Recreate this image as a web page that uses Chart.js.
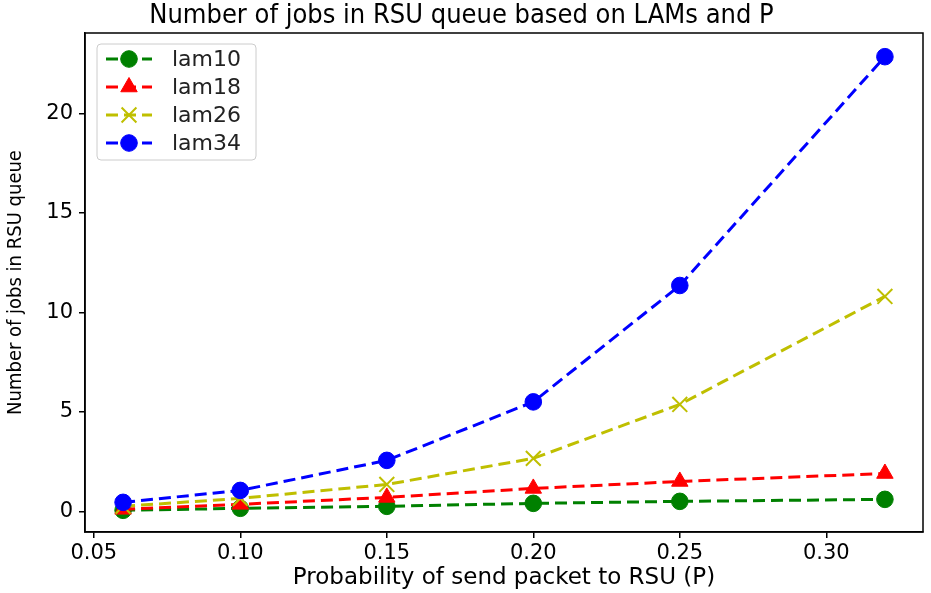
<!DOCTYPE html>
<html>
<head>
<meta charset="utf-8">
<script src="https://cdn.jsdelivr.net/npm/chart.js@4.4.0/dist/chart.umd.min.js"></script>
<style>
  html, body { margin: 0; padding: 0; background: #fff; }
  #wrap { width: 931px; height: 593px; position: relative; }
</style>
</head>
<body>
<div id="wrap"><canvas id="c" width="931" height="593"></canvas></div>
<script>
const pValues = [0.06, 0.10, 0.15, 0.20, 0.25, 0.32];
const lam10 = [0.05, 0.15, 0.25, 0.40, 0.50, 0.60];
const lam18 = [0.10, 0.35, 0.70, 1.15, 1.50, 1.90];
const lam26 = [0.25, 0.65, 1.35, 2.66, 5.37, 10.80];
const lam34 = [0.45, 1.05, 2.56, 5.50, 11.35, 22.85];
const seriesNames = ['lam10', 'lam18', 'lam26', 'lam34'];
const xTicks = [0.05, 0.10, 0.15, 0.20, 0.25, 0.30];
const yTicks = [0, 5, 10, 15, 20];

const colors = ['#008000', '#ff0000', '#bfbf00', '#0000ff'];
const styles = ['circle', 'triangle', 'crossRot', 'circle'];
const radii = [8.3, 9.5, 10.5, 8.3];
const allSeries = [lam10, lam18, lam26, lam34];

const datasets = allSeries.map((vals, i) => ({
  label: seriesNames[i],
  data: pValues.map((p, j) => ({ x: p, y: vals[j] })),
  borderColor: colors[i],
  backgroundColor: colors[i],
  pointBackgroundColor: colors[i],
  pointBorderColor: colors[i],
  pointStyle: styles[i],
  pointRadius: radii[i],
  pointBorderWidth: styles[i] === 'crossRot' ? 2 : 1,
  borderWidth: 3,
  borderDash: [12, 6],
  tension: 0,
  fill: false,
  order: 4 - i
}));

const framePlugin = {
  id: 'frame',
  afterDraw(chart) {
    const { ctx, chartArea: a } = chart;
    ctx.save();
    ctx.strokeStyle = '#000';
    ctx.lineWidth = 1.5;
    ctx.strokeRect(a.left, a.top, a.right - a.left, a.bottom - a.top);
    ctx.restore();
  }
};

const legendPlugin = {
  id: 'mplLegend',
  afterDraw(chart) {
    const { ctx } = chart;
    const bx = 97, by = 44, bw = 159, bh = 116;
    ctx.save();
    ctx.beginPath();
    const r = 4;
    ctx.moveTo(bx + r, by);
    ctx.arcTo(bx + bw, by, bx + bw, by + bh, r);
    ctx.arcTo(bx + bw, by + bh, bx, by + bh, r);
    ctx.arcTo(bx, by + bh, bx, by, r);
    ctx.arcTo(bx, by, bx + bw, by, r);
    ctx.closePath();
    ctx.fillStyle = 'rgba(255,255,255,0.85)';
    ctx.fill();
    ctx.strokeStyle = '#cccccc';
    ctx.lineWidth = 1;
    ctx.stroke();
    chart.data.datasets.forEach((ds, i) => {
      const y = 59 + i * 28;
      ctx.save();
      ctx.strokeStyle = ds.borderColor;
      ctx.lineWidth = 3;
      ctx.setLineDash([12, 6]);
      ctx.beginPath();
      ctx.moveTo(106, y);
      ctx.lineTo(152, y);
      ctx.stroke();
      ctx.setLineDash([]);
      ctx.fillStyle = ds.backgroundColor;
      ctx.strokeStyle = ds.borderColor;
      ctx.lineWidth = ds.pointBorderWidth;
      Chart.helpers.drawPoint(ctx, { pointStyle: ds.pointStyle, rotation: 0, radius: ds.pointRadius, borderWidth: ds.pointBorderWidth }, 129, y);
      ctx.restore();
      ctx.fillStyle = '#222';
      ctx.font = '22px "DejaVu Sans"';
      ctx.textBaseline = 'middle';
      ctx.textAlign = 'left';
      ctx.fillText(ds.label, 172, y + 1);
    });
    ctx.restore();
  }
};

new Chart(document.getElementById('c'), {
  type: 'line',
  data: { datasets },
  options: {
    responsive: false,
    animation: false,
    layout: { autoPadding: false, padding: { left: 0, right: 8, top: 0, bottom: 0 } },
    plugins: {
      legend: { display: false },
      tooltip: { enabled: false },
      title: {
        display: true,
        text: 'Number of jobs in RSU queue based on LAMs and P',
        color: '#000',
        font: { family: '"DejaVu Sans Condensed", "DejaVu Sans"', size: 27, weight: 'normal', lineHeight: 1.0 },
        padding: { top: 2, bottom: 4 }
      }
    },
    scales: {
      x: {
        type: 'linear',
        min: 0.047,
        max: 0.333,
        afterBuildTicks: (s) => { s.ticks = xTicks.map(v => ({ value: v })); },
        afterFit: (s) => { s.height = 61; },
        ticks: {
          color: '#000',
          font: { family: '"DejaVu Sans"', size: 21 },
          padding: 3,
          maxRotation: 0,
          autoSkip: false,
          callback: (v) => Number(v).toFixed(2)
        },
        grid: { drawOnChartArea: false, drawTicks: true, tickLength: 6, color: '#000', lineWidth: 1.5 },
        border: { display: true, color: '#000', width: 1.5 },
        title: {
          display: true,
          text: 'Probability of send packet to RSU (P)',
          color: '#000',
          font: { family: '"DejaVu Sans"', size: 23, lineHeight: 1.0 },
          padding: { top: 0, bottom: 3 }
        }
      },
      y: {
        type: 'linear',
        min: -1.04,
        max: 24.04,
        afterBuildTicks: (s) => { s.ticks = yTicks.map(v => ({ value: v })); },
        afterFit: (s) => { s.width = 85; },
        ticks: {
          color: '#000',
          font: { family: '"DejaVu Sans"', size: 21 },
          padding: 6,
          callback: (v) => String(v)
        },
        grid: { drawOnChartArea: false, drawTicks: true, tickLength: 6, color: '#000', lineWidth: 1.5 },
        border: { display: true, color: '#000', width: 1.5 },
        title: {
          display: true,
          text: 'Number of jobs in RSU queue',
          color: '#000',
          font: { family: '"DejaVu Sans Condensed", "DejaVu Sans"', size: 20, lineHeight: 1.0 },
          padding: { top: 6, bottom: 0 }
        }
      }
    }
  },
  plugins: [framePlugin, legendPlugin]
});
</script>
</body>
</html>
